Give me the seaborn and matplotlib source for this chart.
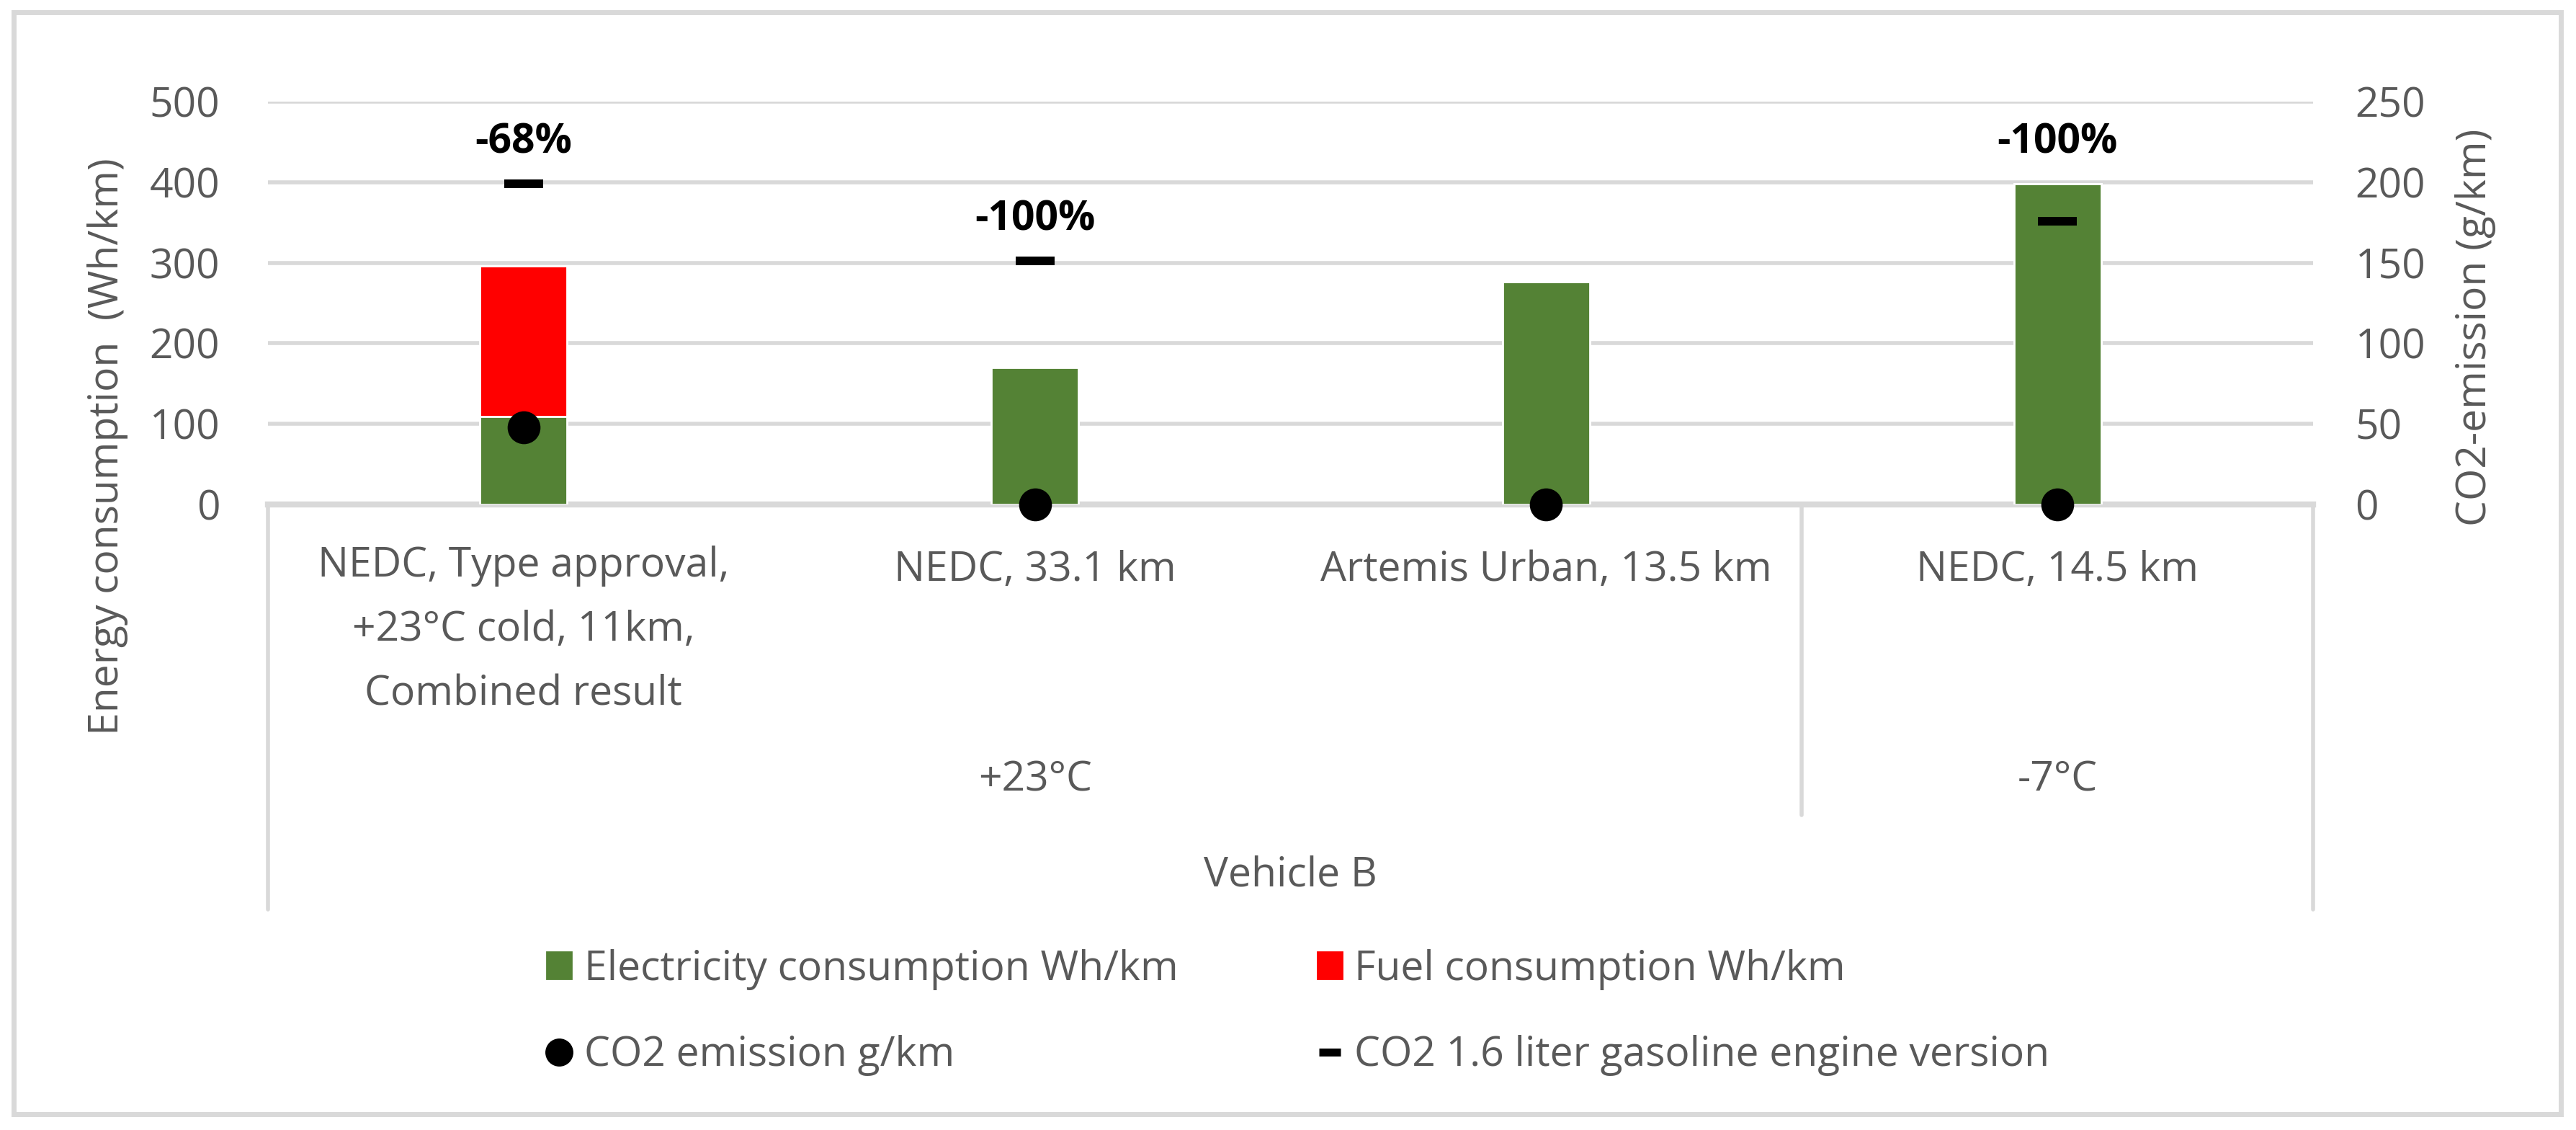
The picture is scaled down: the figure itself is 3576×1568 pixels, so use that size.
import numpy as np
import pandas as pd
import matplotlib.pyplot as plt
import seaborn as sns
from matplotlib.lines import Line2D
from matplotlib.patches import Patch, Rectangle
from matplotlib.transforms import blended_transform_factory

# data
tests = ["NEDC, Type approval,\n+23°C cold, 11km,\nCombined result",
         "NEDC, 33.1 km", "Artemis Urban, 13.5 km", "NEDC, 14.5 km"]
temps = ["+23°C", "-7°C"]
vehicle = "Vehicle B"
electricity = [109, 170, 276, 398]   # Wh/km
fuel = [187, 0, 0, 0]                # Wh/km
co2 = [48, 0, 0, 0]                  # g/km
co2_gasoline = [199, 151, np.nan, 176]  # g/km
reduction = ["-68%", "-100%", "", "-100%"]

GREEN = "#548235"
RED = "#ff0000"
GRID = "#d9d9d9"
TXT = "#595959"

sns.set_theme(style="white")
plt.rcParams['font.family'] = ['Open Sans', 'DejaVu Sans']
FS = 20.5

df = pd.DataFrame({"test": tests, "elec": electricity, "fuel": fuel})
df["total"] = df["elec"] + df["fuel"]

fig = plt.figure(figsize=(17.88, 7.84), dpi=200)
ax = fig.add_axes([0.104, 0.5536, 0.794, 0.3564])

pos = np.arange(len(tests))
sns.barplot(x=pos, y=df["total"], color=RED, width=0.17, saturation=1, ax=ax, zorder=2)
sns.barplot(x=pos, y=df["elec"], color=GREEN, width=0.17, saturation=1, ax=ax, zorder=3)

ax.set_xlim(-0.5, 3.5)
ax.set_ylim(0, 500)
ax.set_yticks(range(0, 501, 100))
ax.yaxis.grid(True, color=GRID, linewidth=2)
ax.set_axisbelow(True)
for s in ax.spines.values():
    s.set_visible(False)
ax.spines["bottom"].set_visible(True)
ax.spines["bottom"].set_color(GRID)
ax.spines["bottom"].set_linewidth(3)
ax.set_xticks([])
ax.set_xlabel("")
ax.set_ylabel("")
ax.tick_params(axis="y", length=0, pad=24, labelsize=FS, labelcolor=TXT)

ax2 = ax.twinx()
ax2.set_ylim(0, 250)
ax2.set_yticks(range(0, 251, 50))
for s in ax2.spines.values():
    s.set_visible(False)
ax2.tick_params(axis="y", length=0, pad=21, labelsize=FS, labelcolor=TXT)
ax2.grid(False)

sns.scatterplot(x=pos, y=co2, marker="o", s=270, color="black", edgecolor="black",
                linewidth=0, ax=ax2, zorder=5, clip_on=False, legend=False)
sns.scatterplot(x=pos, y=co2_gasoline, marker="_", s=390, color="black",
                linewidth=4.3, ax=ax2, zorder=5, legend=False)

# percentage labels above the highest mark
for i, lab in enumerate(reduction):
    if not lab:
        continue
    top = max(df["total"][i], np.nan_to_num(co2_gasoline[i]) * 2)
    ax.text(i, top + 52, lab, ha="center", va="center", fontsize=FS,
            fontweight="bold", color="black")

# multi-level category axis
tr = blended_transform_factory(ax.transData, fig.transFigure)
for i, t in enumerate(tests):
    n = t.count("\n")
    ax.text(i, 0.4950 - n * 0.0265, t, transform=tr, ha="center", va="center",
            fontsize=FS, color=TXT, linespacing=1.75)
ax.text(1.0, 0.3093, temps[0], transform=tr, ha="center", va="center", fontsize=FS, color=TXT)
ax.text(3.0, 0.3093, temps[1], transform=tr, ha="center", va="center", fontsize=FS, color=TXT)
ax.text(1.5, 0.225, vehicle, transform=tr, ha="center", va="center", fontsize=FS, color=TXT)
for xv, ybot in [(-0.5, 0.195), (2.5, 0.279), (3.5, 0.195)]:
    fig.add_artist(Line2D([xv, xv], [0.5536, ybot], transform=tr, color=GRID, linewidth=2))

fig.text(0.0417, 0.605, "Energy consumption  (Wh/km)", rotation=90, ha="center",
         va="center", fontsize=FS, color=TXT)
fig.text(0.961, 0.71, "CO2-emission (g/km)", rotation=90, ha="center",
         va="center", fontsize=FS, color=TXT)

handles = [Patch(color=GREEN),
           Line2D([], [], marker="o", color="black", linestyle="none", markersize=13),
           Patch(color=RED),
           Line2D([], [], marker="_", color="black", linestyle="none", markersize=11, mew=4)]
labels = ["Electricity consumption Wh/km", "CO2 emission g/km",
          "Fuel consumption Wh/km", "CO2 1.6 liter gasoline engine version"]
leg = fig.legend(handles, labels, ncol=2, loc="center", bbox_to_anchor=(0.504, 0.104),
                 frameon=False, fontsize=FS, handlelength=0.6, handleheight=0.6,
                 handletextpad=0.3, columnspacing=3.4, labelspacing=1.1,
                 labelcolor=TXT)

fig.add_artist(Rectangle((0.0053, 0.014), 0.9888, 0.975, transform=fig.transFigure,
                         fill=False, edgecolor=GRID, linewidth=2.5))

fig.savefig("out.png", dpi=200, facecolor="white")
